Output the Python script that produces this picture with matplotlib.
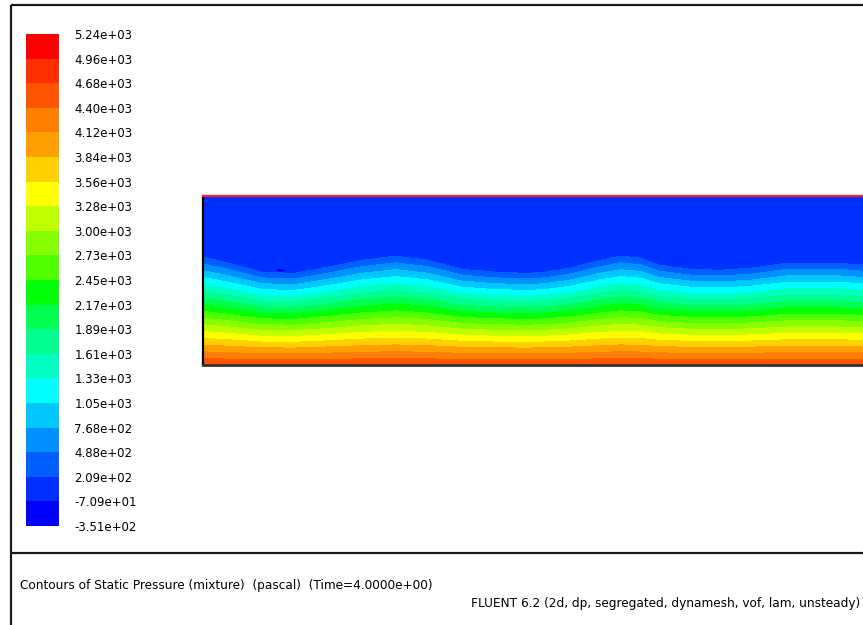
import numpy as np
import matplotlib
matplotlib.use("Agg")
import matplotlib.pyplot as plt
from matplotlib.colors import ListedColormap, BoundaryNorm
from matplotlib.cm import ScalarMappable

# Contour levels of static pressure (pascal)
levels = [-351, -70.9, 209, 488, 768, 1050, 1330, 1610, 1890, 2170, 2450,
          2730, 3000, 3280, 3560, 3840, 4120, 4400, 4680, 4960, 5240]

# Band colours, lowest to highest
band_colors = ["#0000ff", "#0030ff", "#0060ff", "#0090ff", "#00c8ff",
               "#00ffff", "#00ffc0", "#00ff90", "#00ff50", "#00ff08",
               "#50ff00", "#88ff00", "#c0ff00", "#ffff00", "#ffd000",
               "#ffa000", "#ff8000", "#ff5500", "#ff3000", "#ff0000"]

# Channel geometry (mm) and free-surface elevation along the channel (mm)
channel_height = 100.0
channel_length = 390.5
surface_x = [0, 15, 35, 54, 74, 94, 114, 133, 153, 173, 192, 202, 217, 235,
             247, 259, 270, 288, 306, 324, 346, 375, 391]
surface_eta = [63.9, 60.4, 55.0, 54.4, 58.0, 62.1, 64.5, 62.1, 56.8, 55.0,
               54.4, 55.0, 57.4, 62.1, 64.5, 63.3, 59.2, 56.8, 56.2, 57.4,
               60.4, 60.4, 59.2]

# Pressures (pascal)
p_gas = 150.0
p_surface = 209.0
p_bottom = 4660.0

# Small low-pressure pocket just above the surface
pocket_x, pocket_z = 46.0, 56.0
pocket_rx, pocket_rz = 3.2, 1.2
pocket_p = -120.0

# Pressure field on a grid
xg = np.linspace(0, channel_length, 800)
zg = np.linspace(0, channel_height, 400)
X, Z = np.meshgrid(xg, zg)
ETA = np.interp(X, surface_x, surface_eta)
P = np.where(Z < ETA, p_bottom - (p_bottom - p_surface) * Z / ETA, p_gas)
inside = ((X - pocket_x) / pocket_rx) ** 2 + ((Z - pocket_z) / pocket_rz) ** 2 < 1
P[inside] = pocket_p

cmap = ListedColormap(band_colors)
norm = BoundaryNorm(levels, cmap.N)

W, H = 863, 625
fig = plt.figure(figsize=(W / 100, H / 100), dpi=100)
fig.patch.set_facecolor("white")

# Page frame and text panel
bg = fig.add_axes([0, 0, 1, 1])
bg.set_xlim(0, W)
bg.set_ylim(H, 0)
bg.axis("off")
frame_kw = dict(color="#1a1a1a", lw=1.6, solid_capstyle="butt")
bg.plot([11, 11], [5, H], **frame_kw)
bg.plot([11, W], [5, 5], **frame_kw)
bg.plot([11, W], [553, 553], **frame_kw)
bg.text(20, 586, "Contours of Static Pressure (mixture)  (pascal)  (Time=4.0000e+00)",
        fontsize=8.7, va="center", ha="left", color="black")
bg.text(860, 604, "FLUENT 6.2 (2d, dp, segregated, dynamesh, vof, lam, unsteady)",
        fontsize=8.7, va="center", ha="right", color="black")

# Channel contour plot
ax = fig.add_axes([203 / W, (H - 365) / H, (W - 203) / W, 169 / H])
ax.contourf(X, Z, P, levels=levels, cmap=cmap, norm=norm)
ax.set_xlim(0, channel_length)
ax.set_ylim(0, channel_height)
ax.set_xticks([])
ax.set_yticks([])
ax.spines["right"].set_visible(False)
ax.spines["top"].set_color("#ff2020")
ax.spines["top"].set_linewidth(1.6)
ax.spines["left"].set_color("black")
ax.spines["left"].set_linewidth(1.6)
ax.spines["bottom"].set_color("#333333")
ax.spines["bottom"].set_linewidth(2.0)

# Colour legend
cax = fig.add_axes([26 / W, (H - 526) / H, 33 / W, 492 / H])
sm = ScalarMappable(norm=norm, cmap=cmap)
cb = fig.colorbar(sm, cax=cax, ticks=levels, spacing="uniform")
cb.outline.set_visible(False)
cb.ax.tick_params(length=0, pad=11, labelsize=8.5)
cb.ax.set_yticklabels(["%.2e" % v for v in levels])

fig.savefig("out.png", dpi=100)
